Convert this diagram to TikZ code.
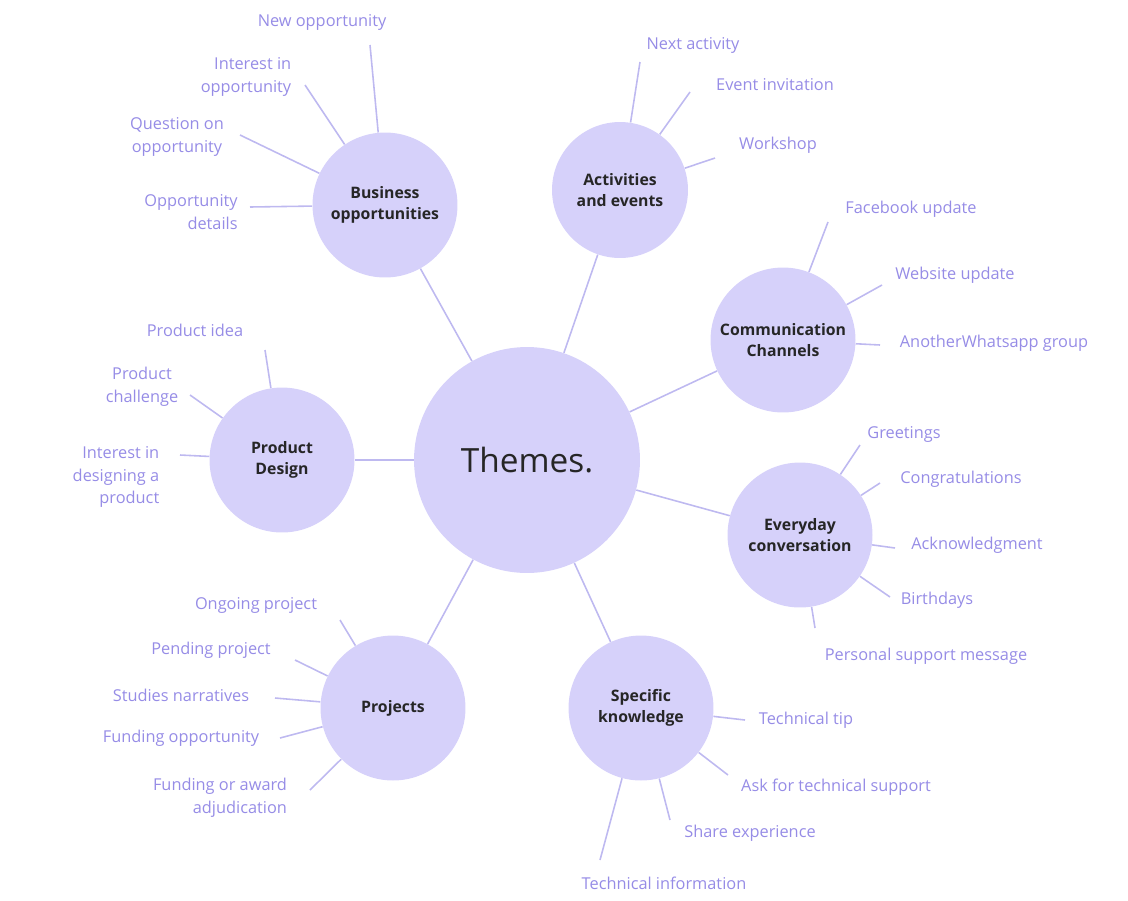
\documentclass[tikz,border=0pt]{standalone}
\usepackage{fontspec}
\setmainfont{Open Sans}
\definecolor{lav}{RGB}{214,209,250}
\definecolor{leaftext}{RGB}{150,140,230}
\definecolor{leafline}{RGB}{190,185,240}
\begin{document}
\begin{tikzpicture}[x=0.02cm,y=-0.02cm]
\tikzset{theme/.style = {shape=circle,fill=lav,minimum size=2.9cm,font=\fontsize{9}{12}\selectfont\bfseries,align=center,text=black!85}}
\tikzset{leaf/.style = {text=leaftext,font=\fontsize{9.3}{13}\selectfont}}
\tikzset{link/.style = {draw=leafline,line width=0.9pt}}
\useasboundingbox (0,0) rectangle (1128,900);
%hub
\node[theme,minimum size=4.52cm,font=\fontsize{19}{20}\selectfont] (hub) at (527,460) {Themes.};
\node[theme] (bus) at (385,205) {Business\\opportunities};
\node[theme,minimum size=2.72cm] (act) at (620,190) {Activities\\and events};
\node[theme] (com) at (783,340) {Communication\\Channels};
\node[theme] (eve) at (800,535) {Everyday\\conversation};
\node[theme] (spe) at (641,708) {Specific\\knowledge};
\node[theme] (pro) at (393,708) {Projects};
\node[theme] (des) at (282,460) {Product\\Design};
\foreach \t in {bus,act,com,eve,spe,pro,des}
  \draw[link] (hub) -- (\t);
%leaves
\foreach \n/\x/\y/\txt/\al/\sx/\sy/\c in {
  b1/322/22/{New opportunity}/center/370/45/bus,
  b2/246/77/{Interest in\\opportunity}/right/305/85/bus,
  b3/177/137/{Question on\\opportunity}/center/240/135/bus,
  b4/191/212/{Opportunity\\details}/right/250/207/bus,
  a1/693/45/{Next activity}/center/640/62/act,
  a2/775/85/{Event invitation}/center/690/92/act,
  a3/778/145/{Workshop}/center/715/158/act,
  c1/911/209/{Facebook update}/center/828/222/com,
  c2/955/275/{Website update}/center/882/285/com,
  c3/994/343/{AnotherWhatsapp group}/center/880/345/com,
  e1/904/434/{Greetings}/center/860/445/eve,
  e2/961/479/{Congratulations}/center/880/483/eve,
  e3/977/545/{Acknowledgment}/center/895/548/eve,
  e4/937/600/{Birthdays}/center/890/597/eve,
  e5/926/656/{Personal support message}/center/815/628/eve,
  s1/806/720/{Technical tip}/center/745/720/spe,
  s2/836/787/{Ask for technical support}/center/728/775/spe,
  s3/750/833/{Share experience}/center/670/820/spe,
  s4/664/883/{Technical information}/center/600/860/spe,
  p1/256/605/{Ongoing project}/center/340/620/pro,
  p2/211/650/{Pending project}/center/295/660/pro,
  p3/181/695/{Studies narratives}/center/275/698/pro,
  p4/181/738/{Funding opportunity}/center/280/738/pro,
  p5/220/798/{Funding or award\\adjudication}/right/310/790/pro,
  d1/195/330/{Product idea}/center/265/350/des,
  d2/142/387/{Product\\challenge}/center/190/395/des,
  d3/116/477/{Interest in\\designing a\\product}/right/180/455/des}
{
  \node[leaf,align=\al] (\n) at (\x,\y) {\txt};
  \coordinate (\n end) at (\sx,\sy);
  \draw[link] (\n end) -- (\c);
}
\end{tikzpicture}
\end{document}
